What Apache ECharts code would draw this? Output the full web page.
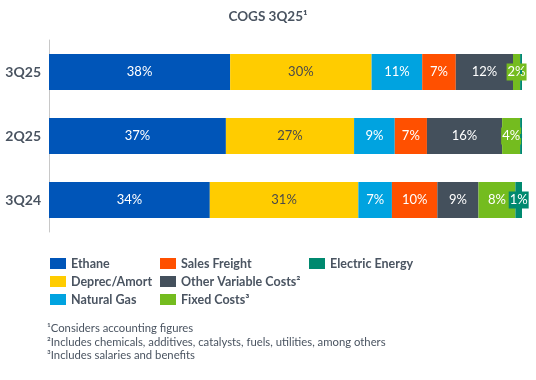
<!DOCTYPE html>
<html><head><meta charset="utf-8">
<script src="https://cdn.jsdelivr.net/npm/echarts@6/dist/echarts.min.js"></script>
<style>html,body{margin:0;padding:0;background:#fff}#c{width:536px;height:380px}</style>
</head><body><div id="c"></div>
<script>
const categories = ['3Q25', '2Q25', '3Q24'];
const seriesNames = ['Ethane', 'Deprec/Amort', 'Natural Gas', 'Sales Freight', 'Other Variable Costs²', 'Fixed Costs³', 'Electric Energy'];
const ethane = [38.3, 37.4, 34.0];
const deprec = [29.9, 27.1, 31.4];
const naturalGas = [10.7, 8.6, 7.1];
const salesFreight = [7.1, 6.8, 9.6];
const otherVariable = [12.1, 15.9, 8.7];
const fixedCosts = [1.5, 3.8, 7.8];
const electricEnergy = [0.4, 0.4, 1.4];
const colors = ['#0055B8', '#FFCC00', '#00A3E0', '#FF5000', '#44505C', '#74BC1F', '#00896F'];
const labelColors = ['#fff', '#4a4a4a', '#fff', '#fff', '#fff', '#fff', '#fff'];
const footnotes = ['¹Considers accounting figures', '²Includes chemicals, additives, catalysts, fuels, utilities, among others', '³Includes salaries and benefits'];
const textColor = '#4a5461';
const font = 'Lato, "Open Sans", sans-serif';

const allData = [ethane, deprec, naturalGas, salesFreight, otherVariable, fixedCosts, electricEnergy];
const series = allData.map((d, i) => ({
  name: seriesNames[i], type: 'bar', stack: 'total', barWidth: 36,
  itemStyle: { color: colors[i] },
  data: d,
  label: {
    show: true, position: 'inside', color: labelColors[i], fontFamily: font, fontSize: 13,
    backgroundColor: i >= 5 ? colors[i] : 'transparent', padding: i >= 5 ? [2, 1] : 0,
    formatter: p => p.value >= 1 ? Math.round(p.value) + '%' : ''
  }
}));

const legendCol = (names, left) => ({
  data: names, orient: 'vertical', left: left, top: 252, itemWidth: 16, itemHeight: 11, itemGap: 5,
  icon: 'rect', selectedMode: false,
  textStyle: { color: textColor, fontWeight: 'bold', fontSize: 12.5, fontFamily: font, padding: [0, 0, 0, 0] }
});

const chart = echarts.init(document.getElementById('c'));
chart.setOption({
  animation: false,
  title: { text: 'COGS 3Q25¹', left: 'center', top: 5, textStyle: { color: textColor, fontSize: 13.5, fontWeight: 'bold', fontFamily: font } },
  grid: { left: 49, right: 14, top: 40, bottom: 148 },
  xAxis: { type: 'value', min: 0, max: 100, show: false },
  yAxis: {
    type: 'category', data: categories, inverse: true,
    axisLine: { show: true, lineStyle: { color: '#c8c8c8' } }, axisTick: { show: false },
    axisLabel: { color: textColor, fontWeight: 'bold', fontSize: 14, fontFamily: font, margin: 8 }
  },
  legend: [
    legendCol(seriesNames.slice(0, 3), 45),
    legendCol(seriesNames.slice(3, 6), 155),
    legendCol(seriesNames.slice(6, 7), 304)
  ],
  graphic: footnotes.map((t, i) => ({
    type: 'text', left: 47, top: 323 + i * 13.5,
    style: { text: t, fill: textColor, font: '11.3px ' + font }
  })),
  series: series
});
</script></body></html>
